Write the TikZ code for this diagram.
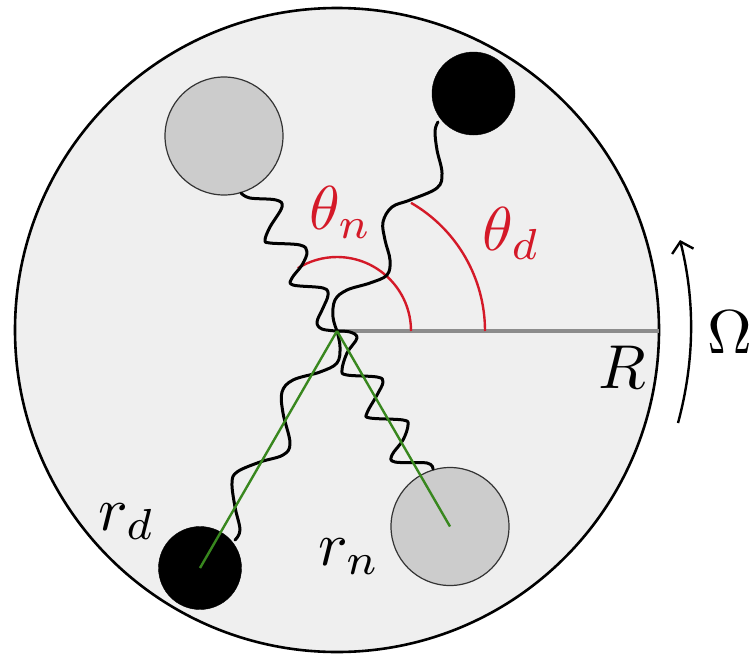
\documentclass[tikz,border=0pt]{standalone}
\usepackage{graphicx}
\usetikzlibrary{arrows.meta}
\definecolor{bgfill}{RGB}{239,239,239}
\definecolor{ballgray}{RGB}{204,204,204}
\definecolor{arcred}{RGB}{212,25,40}
\definecolor{radgreen}{RGB}{56,135,30}
\definecolor{axisgray}{RGB}{140,140,140}
\newcommand{\biglbl}[1]{\scalebox{6.2}{#1}}
\tikzset{
  disk/.style={circle,draw=black,line width=2.6pt,fill=bgfill,minimum size=644pt,inner sep=0pt},
  nball/.style={circle,draw=black!80,line width=1.2pt,fill=ballgray,minimum size=118pt,inner sep=0pt},
  dball/.style={circle,draw=black,fill=black,minimum size=83pt,inner sep=0pt},
  spring/.style={black,line width=3pt,line join=round,line cap=round},
  anglearc/.style={arcred,line width=2.4pt},
  radline/.style={radgreen,line width=2.4pt},
  lbl/.style={inner sep=0pt,anchor=base west}
}
\begin{document}
\begin{tikzpicture}[x=1pt,y=-1pt]
\useasboundingbox (0,0) rectangle (754,656);
\node[disk] (disk) at (337,330) {};
\coordinate (O) at (337,331);
\coordinate (E) at (659,331);
\draw[axisgray,line width=3.2pt] (O) -- (E);
% angle arcs
\coordinate (An) at (411,331);
\coordinate (Ad) at (485,331);
\draw[anglearc] (An) arc[start angle=0,end angle=122,radius=74pt];
\draw[anglearc] (Ad) arc[start angle=0,end angle=60,radius=148pt];
% balls
\node[nball] (nt) at (224,136) {};
\node[dball] (dt) at (473.5,93.5) {};
\node[dball] (db) at (200,568) {};
\node[nball] (nb) at (450,526.5) {};
% springs
\draw[spring] plot[smooth,tension=0.6] coordinates {(241,193) (250,198) (276,200) (282,207) (270,227) (265,240) (270,243) (300,245) (307,252) (302,265) (292,278) (293,285) (323,288) (328,295) (323,308) (317,322) (322,329) (O)};
\draw[spring] plot[smooth,tension=0.6] coordinates {(438,122) (435,131) (437,150) (442,173) (437,188) (410,200) (392,207) (383,222) (385,240) (390,260) (387,275) (370,283) (347,290) (335,300) (333,317) (O)};
\draw[spring] plot[smooth,tension=0.6] coordinates {(O) (350,332) (357,338) (347,353) (342,370) (347,375) (377,377) (383,382) (377,395) (367,413) (370,418) (403,420) (408,425) (403,440) (392,455) (395,462) (427,463) (433,469)};
\draw[spring] plot[smooth,tension=0.6] coordinates {(O) (340,347) (337,363) (320,372) (293,380) (282,392) (283,413) (290,443) (283,455) (260,462) (237,472) (232,483) (235,507) (240,530) (235,540)};
% radii
\draw[radline] (O) -- (db.center);
\draw[radline] (O) -- (nb.center);
% rotation arrow
\coordinate (W1) at (678,423);
\coordinate (W2) at (680,240);
\draw[line width=2.4pt,-{Straight Barb[length=10pt,width=22pt]}] (W1) .. controls (695,360) and (695,300) .. (W2);
% labels
\node[lbl,text=arcred] (tn) at (309,229) {\biglbl{$\theta_n$}};
\node[lbl,text=arcred] (td) at (482,250) {\biglbl{$\theta_d$}};
\node[lbl] (lR) at (598,388) {\biglbl{$R$}};
\node[lbl] (lO) at (707,353) {\biglbl{$\Omega$}};
\node[lbl] (rd) at (98,530) {\biglbl{$r_d$}};
\node[lbl] (rn) at (318,565) {\biglbl{$r_n$}};
\end{tikzpicture}
\end{document}
